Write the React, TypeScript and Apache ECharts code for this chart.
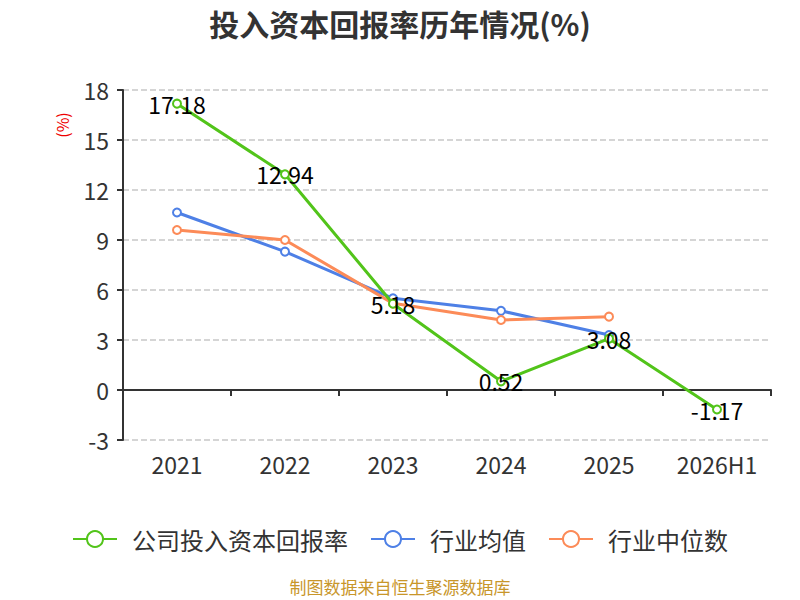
import { useEffect, useRef } from 'react'
import * as echarts from 'echarts'

const years = ['2021', '2022', '2023', '2024', '2025', '2026H1']
const companyRoic = [17.18, 12.94, 5.18, 0.52, 3.08, -1.17]
const industryAvg = [10.65, 8.3, 5.5, 4.75, 3.3, null]
const industryMedian = [9.6, 9.0, 5.2, 4.2, 4.4, null]

const FONT = '"Noto Sans CJK SC", "Noto Sans", sans-serif'

export default function App() {
  const ref = useRef<HTMLDivElement | null>(null)

  useEffect(() => {
    if (!ref.current) return
    const chart = echarts.init(ref.current, undefined, { renderer: 'svg' })
    const lineSeries = (name: string, data: (number | null)[], color: string, withLabel: boolean) => ({
      name,
      type: 'line',
      data,
      symbol: 'emptyCircle',
      symbolSize: 8,
      lineStyle: { width: 3, color },
      itemStyle: { color, borderWidth: 2 },
      label: withLabel
        ? { show: true, position: 'inside', color: '#000', fontSize: 23, fontFamily: FONT }
        : { show: false },
      z: withLabel ? 3 : 2,
    })
    chart.setOption({
      animation: false,
      textStyle: { fontFamily: FONT },
      title: {
        text: '投入资本回报率历年情况(%)',
        left: 'center',
        top: 3,
        textStyle: { fontSize: 30, fontWeight: 'bold', color: '#333', fontFamily: FONT },
      },
      legend: {
        top: 522,
        left: 'center',
        itemWidth: 44,
        itemHeight: 20,
        itemGap: 22,
        textStyle: { fontSize: 24, color: '#333', fontFamily: FONT, padding: [0, 0, 0, 10] },
        data: ['公司投入资本回报率', '行业均值', '行业中位数'],
      },
      graphic: [
        {
          type: 'text',
          left: 'center',
          top: 578,
          style: { text: '制图数据来自恒生聚源数据库', fill: '#c8962a', fontSize: 17, fontFamily: FONT },
        },
        {
          type: 'text',
          x: 62,
          y: 125,
          rotation: Math.PI / 2,
          style: {
            text: '(%)',
            fill: '#e00',
            fontSize: 16,
            fontFamily: FONT,
            textAlign: 'center',
            textVerticalAlign: 'middle',
          },
        },
      ],
      grid: { left: 123, right: 29, top: 90, bottom: 160 },
      xAxis: {
        type: 'category',
        data: years,
        axisLine: { onZero: true, lineStyle: { color: '#333', width: 2 } },
        axisTick: { show: true, length: 6, lineStyle: { color: '#333', width: 2 } },
        axisLabel: { margin: 12, fontSize: 23, color: '#333', fontFamily: FONT },
      },
      yAxis: {
        type: 'value',
        min: -3,
        max: 18,
        interval: 3,
        axisLine: { show: true, lineStyle: { color: '#333', width: 2 } },
        axisTick: { show: true, length: 6, lineStyle: { color: '#333', width: 2 } },
        axisLabel: { fontSize: 23, color: '#333', margin: 14, fontFamily: FONT },
        splitLine: { lineStyle: { type: 'dashed', color: '#c8c8c8', width: 1.5 } },
      },
      series: [
        lineSeries('公司投入资本回报率', companyRoic, '#52c41a', true),
        lineSeries('行业均值', industryAvg, '#4e80e6', false),
        lineSeries('行业中位数', industryMedian, '#fc8b58', false),
      ],
    })
    return () => {
      chart.dispose()
    }
  }, [])

  return <div ref={ref} style={{ position: 'absolute', left: 0, top: 0, width: 800, height: 600 }} />
}
